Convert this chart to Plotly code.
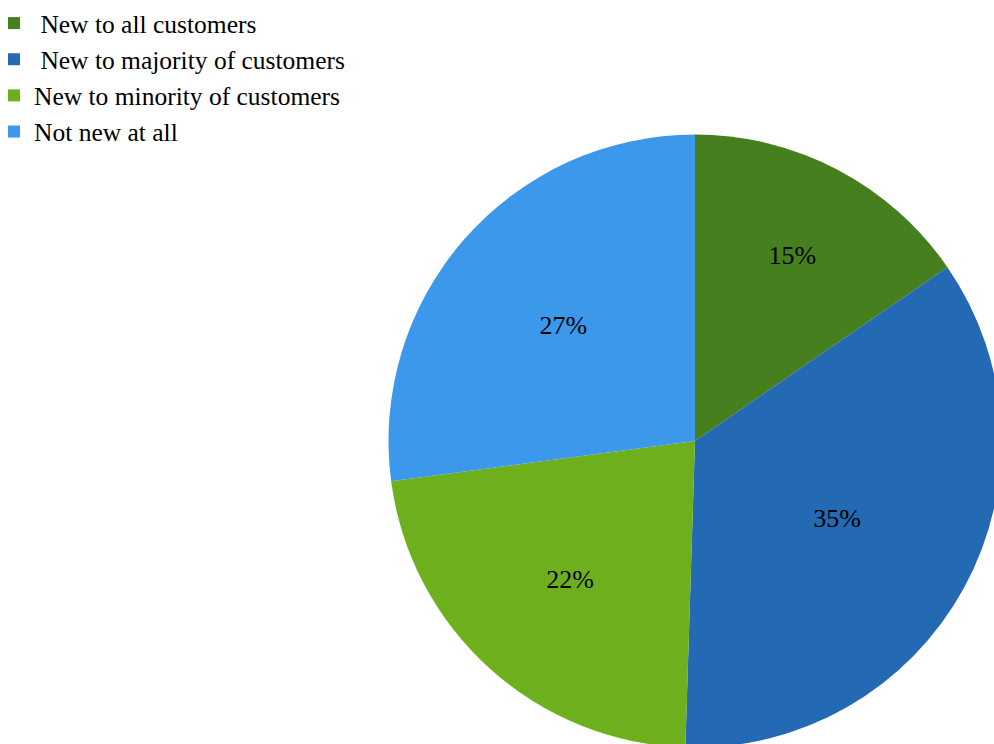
import plotly.graph_objects as go

labels = ["\u00a0New to all customers", "\u00a0New to majority of customers",
          "New to minority of customers", "Not new at all"]
values = [15.4, 35.1, 22.4, 27.1]
colors = ["#467F1E", "#2369B3", "#6EAF1E", "#3C98EA"]

W, H = 1010, 760
cx, cy, r = 695, 441, 306.5

fig = go.Figure(go.Pie(
    labels=labels,
    values=values,
    sort=False,
    direction="clockwise",
    rotation=0,
    marker=dict(colors=colors, line=dict(width=0)),
    textinfo="percent",
    texttemplate="%{percent:.0%}",
    textposition="inside",
    insidetextorientation="horizontal",
    textfont=dict(family="Liberation Serif", size=26, color="black"),
    domain=dict(x=[(cx - r) / W, (cx + r) / W], y=[1 - (cy + r) / H, 1 - (cy - r) / H]),
    hoverinfo="label+percent",
))

fig.update_layout(
    width=W, height=H,
    margin=dict(l=0, r=0, t=0, b=0, autoexpand=False),
    paper_bgcolor="white",
    plot_bgcolor="white",
    font=dict(family="Liberation Serif", size=25.5, color="black"),
    legend=dict(x=-6 / W, y=1, xanchor="left", yanchor="top",
                font=dict(family="Liberation Serif", size=25.5, color="black"),
                bgcolor="rgba(0,0,0,0)", itemwidth=30),
    showlegend=True,
)

fig.write_html("out.html", config={"displayModeBar": False},
               post_script="document.body.style.margin='0';document.body.style.overflow='hidden';")
